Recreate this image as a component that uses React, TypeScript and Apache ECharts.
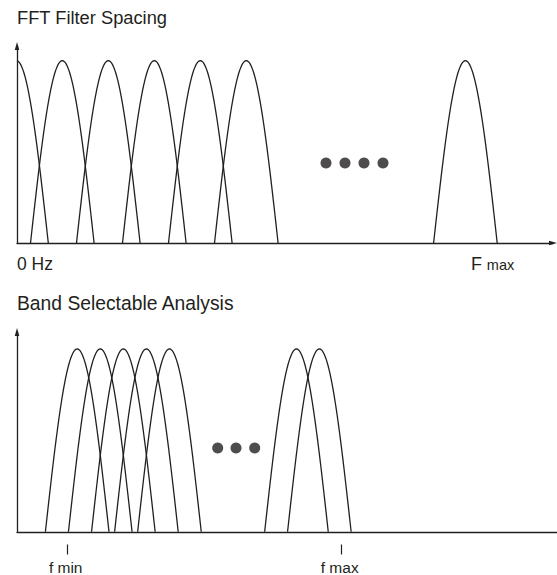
import React, { useEffect, useRef } from "react";
import * as echarts from "echarts";

// ---- data (units: frequency offset from the axis origin) ----
const TOP_LOBE_CENTERS = [-0.5, 45.3, 91.3, 137.3, 183.3, 229.3, 448.4];
const BOTTOM_LOBE_CENTERS = [60.2, 83.25, 106.35, 129.4, 152.45, 279.45, 302.35];
const LOBE_HALF_WIDTH = 31.8;
const TOP_DOTS_X = [309, 328, 347, 366];
const TOP_DOTS_LEVEL = 0.439;
const BOTTOM_DOTS_X = [200.7, 219, 237.7];
const BOTTOM_DOTS_LEVEL = 0.458;
const TOP_LABEL_VALUES = [0, 454];
const TOP_LABEL_TEXTS = ["0 Hz", "F max"];
const BOTTOM_MARK_VALUES = [50.7, 324.7];
const BOTTOM_MARK_TEXTS = ["f min", "f max"];
const TITLES = ["FFT Filter Spacing", "Band Selectable Analysis"];

const INK = "#231f20";
const FONT = "'Liberation Sans', Arial, sans-serif";

function lobeRenderer(xMin: number) {
  return (params: any, api: any) => {
    const c = api.value(0) as number;
    const pts: number[][] = [];
    const N = 60;
    if (c - LOBE_HALF_WIDTH < xMin) {
      const t0 = (xMin - c) / LOBE_HALF_WIDTH;
      pts.push(api.coord([xMin, Math.cos((Math.PI * t0) / 2)]));
    }
    for (let i = 0; i <= N; i++) {
      const t = -1 + (2 * i) / N;
      const x = c + t * LOBE_HALF_WIDTH;
      if (x < xMin) continue;
      pts.push(api.coord([x, Math.cos((Math.PI * t) / 2)]));
    }
    return {
      type: "polyline",
      shape: { points: pts },
      style: { stroke: INK, lineWidth: 1.3, fill: "none" },
      silent: true,
    };
  };
}

export default function App() {
  const ref = useRef<HTMLDivElement>(null);
  useEffect(() => {
    if (!ref.current) return;
    const chart = echarts.init(ref.current, null, { renderer: "svg" });
    const axisLine = { lineStyle: { color: INK, width: 1.3 } };
    const option: any = {
      animation: false,
      backgroundColor: "#ffffff",
      grid: [
        { left: 17, top: 46, width: 536, height: 197 },
        { left: 17, top: 332, width: 540, height: 200.3 },
      ],
      xAxis: [
        {
          gridIndex: 0,
          type: "value",
          min: 0,
          max: 536,
          axisLine: { ...axisLine, symbol: ["none", "triangle"], symbolSize: [4.5, 8] },
          axisTick: { show: false },
          splitLine: { show: false },
          axisLabel: {
            show: true,
            customValues: TOP_LABEL_VALUES,
            formatter: (v: number) => {
              const i = TOP_LABEL_VALUES.indexOf(v);
              const s = i >= 0 ? TOP_LABEL_TEXTS[i] : "";
              const parts = s.split(" ");
              if (parts[0] === "F") return `{F|F} {m|${parts[1]}}`;
              return `{n|${s}}`;
            },
            align: "left",
            verticalAlign: "middle",
            margin: 20.5,
            color: INK,
            fontFamily: FONT,
            fontSize: 17.5,
            rich: {
              n: { fontSize: 17.5, fontFamily: FONT, color: INK },
              F: { fontSize: 18, fontFamily: FONT, color: INK },
              m: { fontSize: 14.5, fontFamily: FONT, color: INK, padding: [2, 0, 0, 0] },
            },
          },
        },
        {
          gridIndex: 1,
          type: "value",
          min: 0,
          max: 540,
          axisLine,
          axisTick: { show: false },
          splitLine: { show: false },
          axisLabel: { show: false },
        },
        {
          gridIndex: 1,
          type: "value",
          position: "bottom",
          offset: 12.7,
          min: 0,
          max: 540,
          axisLine: { show: false },
          axisTick: {
            show: true,
            customValues: BOTTOM_MARK_VALUES,
            length: 10,
            lineStyle: { color: INK, width: 1.2 },
          },
          splitLine: { show: false },
          axisLabel: {
            show: true,
            customValues: BOTTOM_MARK_VALUES,
            formatter: (v: number) => {
              const i = BOTTOM_MARK_VALUES.indexOf(v);
              return i >= 0 ? BOTTOM_MARK_TEXTS[i] : "";
            },
            align: "center",
            verticalAlign: "middle",
            margin: 22.5,
            color: INK,
            fontFamily: FONT,
            fontSize: 15.5,
            padding: [0, 4, 0, 0],
          },
        },
      ],
      yAxis: [
        {
          gridIndex: 0,
          type: "value",
          min: 0,
          max: 1.0806,
          axisLine: { ...axisLine, symbol: ["none", "triangle"], symbolSize: [4.5, 8] },
          axisTick: { show: false },
          axisLabel: { show: false },
          splitLine: { show: false },
        },
        {
          gridIndex: 1,
          type: "value",
          min: 0,
          max: 1.0927,
          axisLine: { ...axisLine, symbol: ["none", "triangle"], symbolSize: [4.5, 8] },
          axisTick: { show: false },
          axisLabel: { show: false },
          splitLine: { show: false },
        },
      ],
      graphic: [
        {
          type: "text",
          left: 17,
          top: 8.5,
          style: { text: TITLES[0], font: `18.3px ${FONT}`, fill: INK },
        },
        {
          type: "text",
          left: 17,
          top: 293.5,
          style: { text: TITLES[1], font: `19.3px ${FONT}`, fill: INK },
        },
      ],
      series: [
        {
          type: "custom",
          xAxisIndex: 0,
          yAxisIndex: 0,
          renderItem: lobeRenderer(0),
          data: TOP_LOBE_CENTERS.map((c) => [c, 1]),
          encode: { x: 0, y: 1 },
          silent: true,
        },
        {
          type: "custom",
          xAxisIndex: 1,
          yAxisIndex: 1,
          renderItem: lobeRenderer(0),
          data: BOTTOM_LOBE_CENTERS.map((c) => [c, 1]),
          encode: { x: 0, y: 1 },
          silent: true,
        },
        {
          type: "scatter",
          xAxisIndex: 0,
          yAxisIndex: 0,
          symbol: "circle",
          symbolSize: 11,
          itemStyle: { color: INK },
          data: TOP_DOTS_X.map((x) => [x, TOP_DOTS_LEVEL]),
          silent: true,
        },
        {
          type: "scatter",
          xAxisIndex: 1,
          yAxisIndex: 1,
          symbol: "circle",
          symbolSize: 11,
          itemStyle: { color: INK },
          data: BOTTOM_DOTS_X.map((x) => [x, BOTTOM_DOTS_LEVEL]),
          silent: true,
        },
      ],
    };
    chart.setOption(option);
    return () => chart.dispose();
  }, []);
  return (
    <div
      ref={ref}
      style={{ position: "absolute", left: 0, top: 0, width: 557, height: 575 }}
    />
  );
}
